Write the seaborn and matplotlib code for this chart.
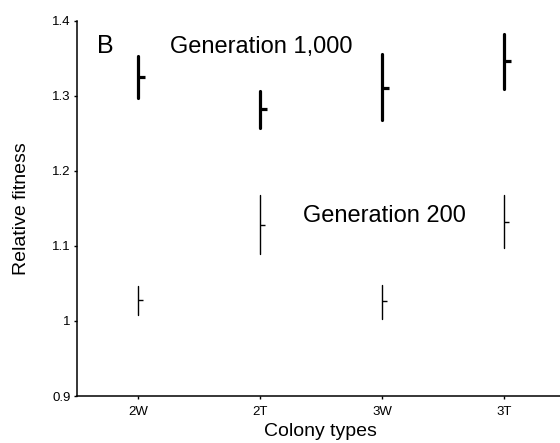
import matplotlib
matplotlib.use("Agg")
import matplotlib.pyplot as plt
import pandas as pd
import seaborn as sns

# Values (mean and range per colony type)
categories = ["2W", "2T", "3W", "3T"]
gen1000_mean = [1.325, 1.283, 1.311, 1.347]
gen1000_low = [1.297, 1.257, 1.268, 1.309]
gen1000_high = [1.353, 1.307, 1.356, 1.383]
gen200_mean = [1.028, 1.128, 1.026, 1.132]
gen200_low = [1.008, 1.089, 1.002, 1.097]
gen200_high = [1.047, 1.168, 1.048, 1.168]
ytick_values = [0.9, 1.0, 1.1, 1.2, 1.3, 1.4]
ytick_labels = ["0.9", "1", "1.1", "1.2", "1.3", "1.4"]

sns.set_style("ticks", {"axes.edgecolor": "black", "text.color": "black",
                        "axes.labelcolor": "black", "xtick.color": "black",
                        "ytick.color": "black"})
plt.rcParams["font.family"] = ["Liberation Sans", "DejaVu Sans"]

fig = plt.figure(figsize=(5.6, 4.43), dpi=100)
ax = fig.add_axes([0.1375, 0.106, 0.8625, 0.847])


def range_frame(low, high):
    return pd.DataFrame({
        "type": categories + categories,
        "value": low + high,
    })


# Vertical range bars (min-max of low/high), then the mean tick to the right
for low, high, mean, lw, tick in [
    (gen1000_low, gen1000_high, gen1000_mean, 2.3, 5.0),
    (gen200_low, gen200_high, gen200_mean, 1.0, 3.6),
]:
    sns.pointplot(data=range_frame(low, high), x="type", y="value", order=categories,
                  errorbar=("pi", 100), linestyle="none", marker="", color="black",
                  err_kws={"linewidth": lw}, ax=ax)
    sns.pointplot(x=categories, y=mean, order=categories, errorbar=None,
                  linestyle="none", marker=1, markersize=tick, markeredgewidth=lw,
                  color="black", ax=ax)

ax.set_xlim(-0.5, 3.46)
ax.set_ylim(0.9, 1.4)
ax.set_yticks(ytick_values)
ax.set_yticklabels(ytick_labels)
ax.tick_params(axis="both", direction="out", length=2.5, width=1, labelsize=9.5, pad=2)
ax.tick_params(axis="x", pad=5)
sns.despine(ax=ax)
for side in ["left", "bottom"]:
    ax.spines[side].set_linewidth(1.1)

ax.set_xlabel("Colony types", fontsize=14)
ax.set_ylabel("Relative fitness", fontsize=14)
ax.xaxis.set_label_coords(0.505, -0.072)
ax.yaxis.set_label_coords(-0.097, 0.5)

ax.text(0.041, 0.915, "B", transform=ax.transAxes, fontsize=18, va="baseline")
ax.text(0.193, 0.915, "Generation 1,000", transform=ax.transAxes, fontsize=17, va="baseline")
ax.text(0.468, 0.464, "Generation 200", transform=ax.transAxes, fontsize=17, va="baseline")

plt.savefig("out.png", dpi=100)
